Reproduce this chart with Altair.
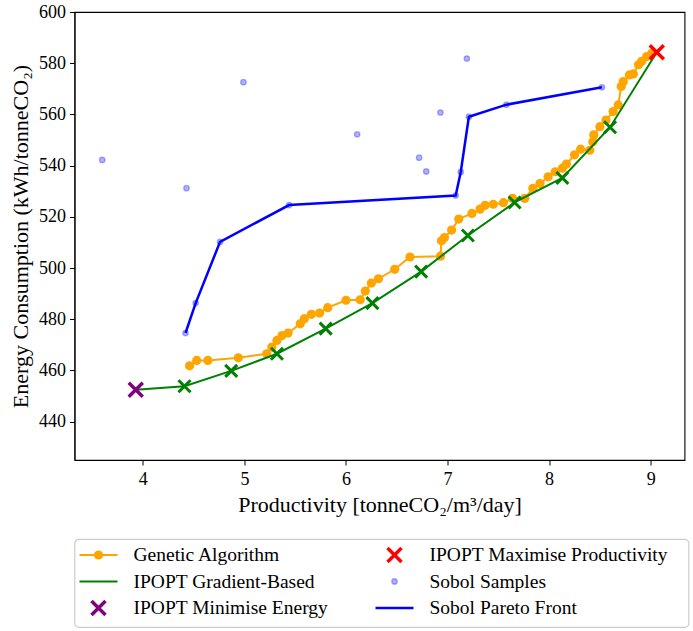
import altair as alt
import pandas as pd

# ---------------- data ----------------
ga_x = [4.46, 4.53, 4.64, 4.94, 5.22, 5.27, 5.32, 5.37, 5.43, 5.55, 5.59, 5.66, 5.74, 5.82,
        6.00, 6.14, 6.19, 6.25, 6.32, 6.48, 6.63, 6.93, 6.94, 6.97, 7.04, 7.11, 7.24, 7.32,
        7.37, 7.45, 7.55, 7.64, 7.76, 7.84, 7.91, 7.99, 8.06, 8.13, 8.17, 8.25, 8.31, 8.40,
        8.43, 8.44, 8.50, 8.56, 8.63, 8.68, 8.71, 8.73, 8.79, 8.83, 8.88, 8.91, 8.96, 9.01]
ga_y = [461.8, 463.9, 463.9, 464.9, 466.5, 469.1, 471.7, 473.6, 474.6, 478.2, 480.2, 481.9, 482.4, 484.5,
        487.4, 487.6, 491.0, 494.1, 495.8, 499.5, 504.3, 504.6, 510.6, 511.9, 514.8, 519.1, 521.3, 523.0,
        524.5, 524.9, 525.5, 527.2, 527.2, 531.1, 533.0, 535.6, 537.6, 539.0, 540.6, 544.2, 546.4, 546.0,
        549.3, 552.0, 555.2, 557.8, 561.1, 563.7, 570.9, 572.8, 575.4, 575.8, 579.4, 580.7, 582.6, 583.9]

ipopt_x = [3.93, 4.41, 4.87, 5.32, 5.80, 6.26, 6.74, 7.20, 7.66, 8.13, 8.60, 9.06]
ipopt_y = [452.4, 453.8, 459.8, 466.5, 476.3, 486.3, 498.6, 512.7, 525.6, 535.2, 555.0, 584.3]

min_energy_x = [3.93]
min_energy_y = [452.4]
max_prod_x = [9.06]
max_prod_y = [584.3]

front_x = [4.42, 4.52, 4.76, 5.44, 7.08, 7.13, 7.21, 7.58, 8.52]
front_y = [474.6, 486.3, 510.2, 524.6, 528.3, 537.5, 559.1, 563.8, 570.6]

other_sobol_x = [3.60, 4.99, 4.43, 6.11, 6.72, 6.79, 6.93, 7.19]
other_sobol_y = [542.2, 572.6, 531.2, 552.2, 543.1, 537.7, 560.7, 581.8]

x_ticks = [4, 5, 6, 7, 8, 9]
y_ticks = [440, 460, 480, 500, 520, 540, 560, 580, 600]

legend_labels = ["Genetic Algorithm", "IPOPT Gradient-Based", "IPOPT Minimise Energy",
                 "IPOPT Maximise Productivity", "Sobol Samples", "Sobol Pareto Front"]

# ---------------- styling ----------------
FONT = "Liberation Serif"
ORANGE = "#ffa500"
GREEN = "#008000"
PURPLE = "#800080"
RED = "#ff0000"
BLUE = "#0000ff"
X_PATH = "M-1,-1L1,1M-1,1L1,-1"
LINE_PATH = "M-1,0L1,0"

ga = pd.DataFrame({"x": ga_x, "y": ga_y, "o": list(range(len(ga_x)))})
ipopt = pd.DataFrame({"x": ipopt_x, "y": ipopt_y, "o": list(range(len(ipopt_x)))})
ipopt_inner = ipopt.iloc[1:-1]
min_e = pd.DataFrame({"x": min_energy_x, "y": min_energy_y})
max_p = pd.DataFrame({"x": max_prod_x, "y": max_prod_y})
front = pd.DataFrame({"x": front_x, "y": front_y, "o": list(range(len(front_x)))})
sobol = pd.DataFrame({"x": other_sobol_x + front_x, "y": other_sobol_y + front_y})

xs = alt.Scale(domain=[3.327, 9.333], nice=False, zero=False)
ys = alt.Scale(domain=[425, 600], nice=False, zero=False)

X = alt.X("x:Q", scale=xs, axis=alt.Axis(values=x_ticks, title="Productivity [tonneCO₂/m³/day]",
                                          format="d", labelPadding=5, titlePadding=6))
Y = alt.Y("y:Q", scale=ys, axis=alt.Axis(values=y_ticks, title="Energy Consumption (kWh/tonneCO₂)",
                                          format="d", labelPadding=4, titlePadding=6))

ga_line = alt.Chart(ga).mark_line(color=ORANGE, strokeWidth=2).encode(x=X, y=Y, order="o:Q")
ga_pts = alt.Chart(ga).mark_circle(color=ORANGE, size=85, opacity=1).encode(x=X, y=Y)
ip_line = alt.Chart(ipopt).mark_line(color=GREEN, strokeWidth=2).encode(x=X, y=Y, order="o:Q")
ip_pts = alt.Chart(ipopt_inner).mark_point(shape=X_PATH, size=144, filled=False, strokeWidth=3,
                                           color=GREEN, opacity=1).encode(x=X, y=Y)
min_pt = alt.Chart(min_e).mark_point(shape=X_PATH, size=196, filled=False, strokeWidth=3.5,
                                     color=PURPLE, opacity=1).encode(x=X, y=Y)
max_pt = alt.Chart(max_p).mark_point(shape=X_PATH, size=196, filled=False, strokeWidth=3.5,
                                     color=RED, opacity=1).encode(x=X, y=Y)
sob_pts = alt.Chart(sobol).mark_circle(size=30, color=BLUE, fillOpacity=0.3, stroke=BLUE,
                                       strokeOpacity=0.3, strokeWidth=1.3).encode(x=X, y=Y)
front_line = alt.Chart(front).mark_line(color=BLUE, strokeWidth=2.5).encode(x=X, y=Y, order="o:Q")

main = alt.layer(ga_line, ga_pts, ip_line, ip_pts, min_pt, max_pt, sob_pts, front_line).properties(
    width=610, height=448,
    view=alt.ViewBackground(stroke="black", strokeWidth=1.1, fill="white"),
)

# ---------------- legend panel ----------------
leg = pd.DataFrame({
    "label": legend_labels,
    "col": [i // 3 for i in range(len(legend_labels))],
    "row": [i % 3 for i in range(len(legend_labels))],
})
LX = alt.X("col:Q", scale=alt.Scale(domain=[0, 1], range=[24, 320]), axis=None)
LY = alt.Y("row:Q", scale=alt.Scale(domain=[0, 2], range=[16, 69]), axis=None)

def sel(names):
    return alt.FieldOneOfPredicate(field="label", oneOf=names)

leg_lines_orange = alt.Chart(leg).transform_filter(sel(["Genetic Algorithm"])).mark_point(
    shape=LINE_PATH, size=1444, filled=False, strokeWidth=2, color=ORANGE, opacity=1).encode(x=LX, y=LY)
leg_dot_orange = alt.Chart(leg).transform_filter(sel(["Genetic Algorithm"])).mark_circle(
    size=85, color=ORANGE, opacity=1).encode(x=LX, y=LY)
leg_line_green = alt.Chart(leg).transform_filter(sel(["IPOPT Gradient-Based"])).mark_point(
    shape=LINE_PATH, size=1444, filled=False, strokeWidth=2, color=GREEN, opacity=1).encode(x=LX, y=LY)
leg_min = alt.Chart(leg).transform_filter(sel(["IPOPT Minimise Energy"])).mark_point(
    shape=X_PATH, size=196, filled=False, strokeWidth=3.5, color=PURPLE, opacity=1).encode(x=LX, y=LY)
leg_max = alt.Chart(leg).transform_filter(sel(["IPOPT Maximise Productivity"])).mark_point(
    shape=X_PATH, size=196, filled=False, strokeWidth=3.5, color=RED, opacity=1).encode(x=LX, y=LY)
leg_sob = alt.Chart(leg).transform_filter(sel(["Sobol Samples"])).mark_circle(
    size=30, color=BLUE, fillOpacity=0.3, stroke=BLUE, strokeOpacity=0.3, strokeWidth=1.3).encode(x=LX, y=LY)
leg_front = alt.Chart(leg).transform_filter(sel(["Sobol Pareto Front"])).mark_point(
    shape=LINE_PATH, size=1444, filled=False, strokeWidth=2.5, color=BLUE, opacity=1).encode(x=LX, y=LY)
leg_text = alt.Chart(leg).mark_text(align="left", baseline="middle", dx=35, fontSize=19.5,
                                    font=FONT, color="black").encode(x=LX, y=LY, text="label:N")

legend = alt.layer(leg_lines_orange, leg_dot_orange, leg_line_green, leg_min, leg_max, leg_sob,
                   leg_front, leg_text).properties(
    width=614, height=88,
    view=alt.ViewBackground(stroke="#cccccc", strokeWidth=1.2, cornerRadius=4, fill="white"),
)

chart = alt.vconcat(main, legend, spacing=22).resolve_scale(x="independent", y="independent").properties(
    padding={"left": 8.5, "top": 2, "right": 2, "bottom": 2},
    background="white",
).configure(font=FONT).configure_axis(
    labelFont=FONT, titleFont=FONT, labelFontSize=18, titleFontSize=22, labelColor="black",
    titleColor="black", titleFontWeight="normal", tickColor="black", domainColor="black",
    tickSize=5, tickWidth=1, domainWidth=1, grid=False,
)

chart.save("out.html", embed_options={"renderer": "svg", "actions": False})
